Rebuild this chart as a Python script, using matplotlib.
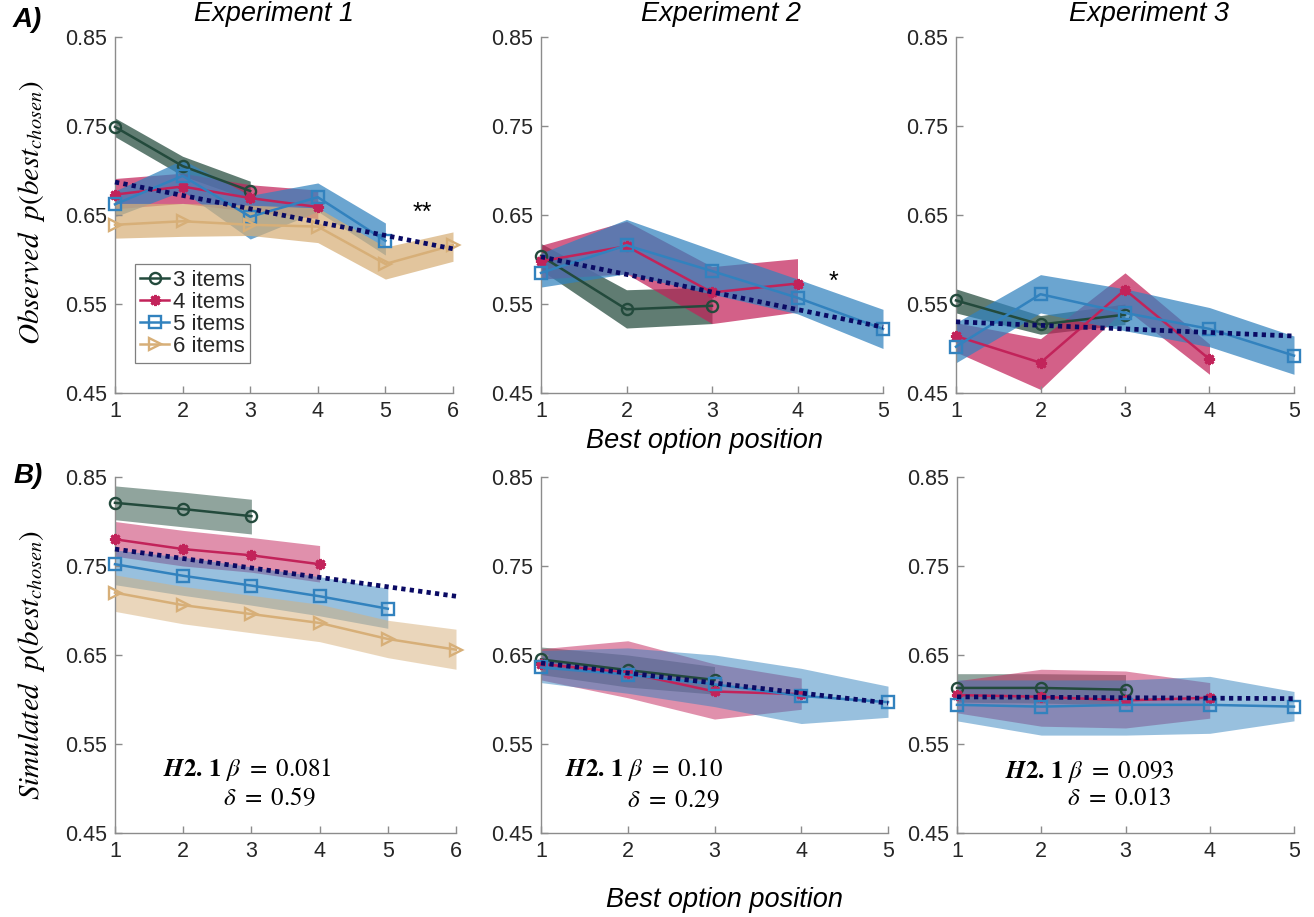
import matplotlib
matplotlib.use('Agg')
import matplotlib.pyplot as plt

plt.rcParams['font.family'] = ['Liberation Sans', 'DejaVu Sans']
plt.rcParams['mathtext.fontset'] = 'stix'

# ---------------- data ----------------
labels = {3: '3 items', 4: '4 items', 5: '5 items', 6: '6 items'}
yticks = [0.45, 0.55, 0.65, 0.75, 0.85]
titles = ['Experiment 1', 'Experiment 2', 'Experiment 3']

# Observed (row A)
A1_mean = {3: [0.749, 0.705, 0.677],
           4: [0.673, 0.682, 0.669, 0.659],
           5: [0.662, 0.694, 0.648, 0.670, 0.621],
           6: [0.639, 0.643, 0.639, 0.637, 0.595, 0.616]}
A1_lo = {3: [0.738, 0.694, 0.667],
         4: [0.657, 0.663, 0.654, 0.646],
         5: [0.648, 0.677, 0.623, 0.654, 0.605],
         6: [0.624, 0.626, 0.627, 0.619, 0.578, 0.598]}
A1_hi = {3: [0.759, 0.716, 0.688],
         4: [0.691, 0.697, 0.684, 0.678],
         5: [0.677, 0.712, 0.672, 0.686, 0.641],
         6: [0.663, 0.663, 0.661, 0.658, 0.614, 0.631]}
A1_reg = [0.687, 0.612]

A2_mean = {3: [0.604, 0.544, 0.548],
           4: [0.598, 0.615, 0.563, 0.573],
           5: [0.585, 0.616, 0.587, 0.557, 0.522]}
A2_lo = {3: [0.588, 0.523, 0.528],
         4: [0.578, 0.584, 0.528, 0.541],
         5: [0.569, 0.584, 0.561, 0.539, 0.500]}
A2_hi = {3: [0.618, 0.566, 0.569],
         4: [0.616, 0.643, 0.592, 0.601],
         5: [0.607, 0.645, 0.611, 0.578, 0.544]}
A2_reg = [0.603, 0.524]

A3_mean = {3: [0.554, 0.527, 0.538],
           4: [0.514, 0.484, 0.566, 0.488],
           5: [0.502, 0.561, 0.540, 0.522, 0.492]}
A3_lo = {3: [0.540, 0.516, 0.527],
         4: [0.496, 0.454, 0.545, 0.471],
         5: [0.484, 0.540, 0.520, 0.502, 0.471]}
A3_hi = {3: [0.567, 0.537, 0.550],
         4: [0.529, 0.511, 0.585, 0.505],
         5: [0.529, 0.583, 0.567, 0.546, 0.514]}
A3_reg = [0.530, 0.514]

# Simulated (row B)
B1_mean = {3: [0.821, 0.814, 0.806],
           4: [0.780, 0.769, 0.762, 0.752],
           5: [0.752, 0.739, 0.728, 0.716, 0.702],
           6: [0.720, 0.706, 0.696, 0.686, 0.668, 0.656]}
B1_lo = {3: [0.802, 0.794, 0.786],
         4: [0.761, 0.750, 0.743, 0.732],
         5: [0.729, 0.717, 0.706, 0.694, 0.680],
         6: [0.699, 0.685, 0.675, 0.665, 0.647, 0.634]}
B1_hi = {3: [0.840, 0.833, 0.825],
         4: [0.800, 0.790, 0.782, 0.773],
         5: [0.768, 0.760, 0.749, 0.738, 0.725],
         6: [0.740, 0.727, 0.717, 0.707, 0.689, 0.679]}
B1_reg = [0.769, 0.716]

B2_mean = {3: [0.645, 0.633, 0.622],
           4: [0.640, 0.630, 0.609, 0.606],
           5: [0.636, 0.628, 0.617, 0.604, 0.597]}
B2_lo = {3: [0.628, 0.614, 0.606],
         4: [0.622, 0.602, 0.578, 0.589],
         5: [0.619, 0.607, 0.592, 0.573, 0.580]}
B2_hi = {3: [0.659, 0.650, 0.637],
         4: [0.657, 0.666, 0.640, 0.624],
         5: [0.655, 0.658, 0.650, 0.635, 0.615]}
B2_reg = [0.641, 0.596]

B3_mean = {3: [0.613, 0.613, 0.611],
           4: [0.605, 0.603, 0.599, 0.602],
           5: [0.594, 0.592, 0.594, 0.594, 0.592]}
B3_lo = {3: [0.597, 0.596, 0.594],
         4: [0.585, 0.570, 0.568, 0.579],
         5: [0.576, 0.560, 0.560, 0.562, 0.576]}
B3_hi = {3: [0.629, 0.629, 0.628],
         4: [0.621, 0.634, 0.632, 0.619],
         5: [0.622, 0.622, 0.622, 0.626, 0.609]}
B3_reg = [0.603, 0.601]

B_notes = [(r'$\mathbfit{H}\mathbf{2.}\,\mathbf{1}\ \beta\ =\ 0.081$', r'$\delta\ =\ 0.59$'),
           (r'$\mathbfit{H}\mathbf{2.}\,\mathbf{1}\ \beta\ =\ 0.10$', r'$\delta\ =\ 0.29$'),
           (r'$\mathbfit{H}\mathbf{2.}\,\mathbf{1}\ \beta\ =\ 0.093$', r'$\delta\ =\ 0.013$')]
A_stars = ['**', '*', '']

# ---------------- style ----------------
colors = {3: '#234a3c', 4: '#c2235a', 5: '#3282be', 6: '#d7af78'}
markers = {3: 'o', 4: (8, 2, 0), 5: 's', 6: '>'}
reg_color = '#0a0a64'
spine_c = '#8c8c8c'
text_c = '#262626'

W, H = 1314, 917
fig = plt.figure(figsize=(W / 100, H / 100), dpi=100)


def ax_at(l, r, t, b):
    return fig.add_axes([l / W, 1 - b / H, (r - l) / W, (b - t) / H])


top_pos = [(115, 453), (541, 883), (956, 1294)]
bot_pos = [(115, 456), (541, 888), (957, 1294)]

panels = [
    (A1_mean, A1_lo, A1_hi, A1_reg, top_pos[0], (37, 393), 0.72),
    (A2_mean, A2_lo, A2_hi, A2_reg, top_pos[1], (37, 393), 0.72),
    (A3_mean, A3_lo, A3_hi, A3_reg, top_pos[2], (37, 393), 0.72),
    (B1_mean, B1_lo, B1_hi, B1_reg, bot_pos[0], (477, 833), 0.5),
    (B2_mean, B2_lo, B2_hi, B2_reg, bot_pos[1], (477, 833), 0.5),
    (B3_mean, B3_lo, B3_hi, B3_reg, bot_pos[2], (477, 833), 0.5),
]

axes = []
legend_handles = []
for pi, (mean, lo, hi, reg, (l, r), (t, b), alpha) in enumerate(panels):
    ax = ax_at(l, r, t, b)
    axes.append(ax)
    nmax = max(mean.keys())
    for n in sorted(mean.keys()):
        xs = list(range(1, n + 1))
        c = colors[n]
        ax.fill_between(xs, lo[n], hi[n], color=c, alpha=alpha, lw=0)
        ln, = ax.plot(xs, mean[n], color=c, lw=1.8, marker=markers[n],
                      markersize=8,
                      markerfacecolor='none' if n != 4 else c,
                      markeredgecolor=c, markeredgewidth=1.7 if n != 4 else 2.0,
                      clip_on=False, label=labels[n], zorder=3)
        if pi == 0:
            legend_handles.append(ln)
    ax.plot([1, nmax], reg, color=reg_color, lw=3.4, linestyle=(0, (0.9, 0.9)),
            zorder=4, clip_on=False)
    ax.set_xlim(1, nmax)
    ax.set_ylim(0.45, 0.85)
    ax.set_xticks(range(1, nmax + 1))
    ax.set_yticks(yticks)
    ax.set_yticklabels(['%.2f' % v for v in yticks])
    for s in ['top', 'right']:
        ax.spines[s].set_visible(False)
    for s in ['left', 'bottom']:
        ax.spines[s].set_color(spine_c)
        ax.spines[s].set_linewidth(1.0)
    ax.tick_params(direction='in', length=5, width=1.0, color=spine_c,
                   labelcolor=text_c, labelsize=15.5, pad=6)
    ax.set_facecolor('none')

# titles
title_x = [0.469, 0.526, 0.571]
for i in range(3):
    axes[i].text(title_x[i], 1.028, titles[i], transform=axes[i].transAxes,
                 ha='center', va='bottom', fontsize=19.5, style='italic',
                 color='black')

# significance stars
axes[0].text(5.55, 0.652, A_stars[0], ha='center', va='center', fontsize=18,
             color='black')
axes[1].text(4.42, 0.575, A_stars[1], ha='center', va='center', fontsize=18,
             color='black')

# legend
leg = axes[0].legend(handles=legend_handles, loc='upper left',
                     bbox_to_anchor=(0.059, 0.362), fontsize=16,
                     frameon=True, fancybox=False, edgecolor='#7f7f7f',
                     framealpha=1, handlelength=1.3, handletextpad=0.15,
                     labelspacing=0.05, borderpad=0.25, borderaxespad=0)
leg.get_frame().set_linewidth(0.9)
for txt in leg.get_texts():
    txt.set_color(text_c)

# annotations in row B
note_pos = [((0.141, 0.177), (0.317, 0.098)),
            ((0.069, 0.177), (0.248, 0.093)),
            ((0.142, 0.172), (0.326, 0.098))]
for i in range(3):
    ax = axes[3 + i]
    (x1, y1), (x2, y2) = note_pos[i]
    ax.text(x1, y1, B_notes[i][0], transform=ax.transAxes, ha='left',
            va='center', fontsize=18, color='black')
    ax.text(x2, y2, B_notes[i][1], transform=ax.transAxes, ha='left',
            va='center', fontsize=18, color='black')

# y labels
fig.text(32 / W, 1 - 212 / H, r'$Observed\ \ p(best_{chosen})$', rotation=90,
         ha='center', va='center', fontsize=21, color='black')
fig.text(32 / W, 1 - 665 / H, r'$Simulated\ \ p(best_{chosen})$', rotation=90,
         ha='center', va='center', fontsize=21, color='black')

# x labels
fig.text(705 / W, 1 - 441 / H, 'Best option position', ha='center',
         va='center', fontsize=19.5, style='italic', color='black')
fig.text(724 / W, 1 - 900 / H, 'Best option position', ha='center',
         va='center', fontsize=19.5, style='italic', color='black')

# panel letters
fig.text(27 / W, 1 - 20 / H, 'A)', ha='center', va='center', fontsize=20,
         style='italic', weight='bold', color='black')
fig.text(28 / W, 1 - 476 / H, 'B)', ha='center', va='center', fontsize=20,
         style='italic', weight='bold', color='black')

fig.savefig('out.png', dpi=100)
